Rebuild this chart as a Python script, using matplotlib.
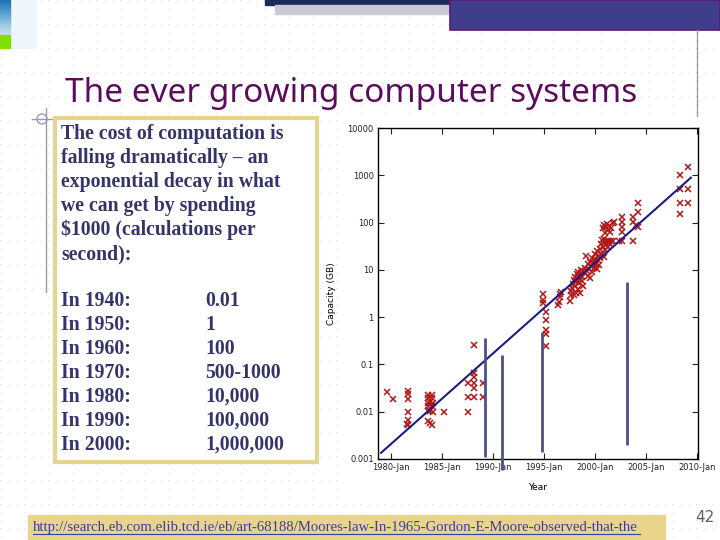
import numpy as np
import matplotlib
matplotlib.use("Agg")
from matplotlib import pyplot as plt
from matplotlib.patches import Rectangle, Circle

# ---- data ----
years = [1979.6, 1980.2, 1981.6, 1981.6, 1981.6, 1981.6, 1981.6, 1981.5, 1981.6,
         1983.6, 1984.0, 1983.6, 1984.0, 1983.8, 1983.6, 1984.1, 1983.6, 1984.0,
         1983.6, 1983.8, 1984.1, 1983.6, 1983.8, 1984.0,
         1985.2, 1987.5, 1987.5, 1987.5, 1988.1, 1988.1, 1988.1, 1988.1, 1988.1, 1988.1,
         1989.0, 1989.0,
         1994.9, 1994.9, 1994.9, 1995.2, 1995.2, 1995.2, 1995.2, 1995.2,
         1996.4, 1996.5, 1996.6, 1996.6, 1996.7, 1997.55,
         1997.6, 1997.6, 1997.7, 1997.8, 1997.9, 1997.9, 1998.0, 1998.0, 1998.1, 1998.1,
         1998.2, 1998.2, 1998.3, 1998.3, 1998.4, 1998.4, 1998.5, 1998.5, 1998.6, 1998.6,
         1998.7, 1998.7, 1998.8, 1998.8,
         1999.0, 1999.0, 1999.1, 1999.2, 1999.3, 1999.3, 1999.4, 1999.5, 1999.5, 1999.6,
         1999.7, 1999.7, 1999.8, 1999.9, 2000.0, 2000.0, 2000.1, 2000.2, 2000.2, 2000.3,
         2000.4, 2000.4,
         2000.5, 2000.5, 2000.6, 2000.7, 2000.7, 2000.8, 2000.9, 2000.9, 2001.0, 2001.0,
         2001.1, 2001.2, 2001.3, 2001.4, 2001.5, 2001.6, 2001.8,
         2000.8, 2000.9, 2001.0, 2001.1, 2001.2, 2001.3, 2001.4, 2001.5, 2001.6, 2001.8,
         2001.9, 2002.3, 2002.6, 2002.6, 2002.6, 2002.6, 2002.6,
         2003.7, 2003.75, 2004.0, 2004.25, 2004.25, 2004.25, 2003.75,
         2008.3, 2008.3, 2008.3, 2008.3, 2009.1, 2009.1, 2009.1]
capacity = [0.0266, 0.0189, 0.0279, 0.0238, 0.0189, 0.010, 0.0067, 0.0055, 0.0053,
            0.0226, 0.0226, 0.0193, 0.0193, 0.0164, 0.0156, 0.0156, 0.0133, 0.0133,
            0.0105, 0.0105, 0.010, 0.0065, 0.0059, 0.0053,
            0.010, 0.0412, 0.0208, 0.010, 0.258, 0.065, 0.0536, 0.040, 0.0314, 0.0208,
            0.0412, 0.0208,
            3.09, 2.31, 1.97, 1.27, 0.87, 0.537, 0.44, 0.246,
            1.81, 2.13, 2.63, 3.09, 3.46, 2.2,
            3.0, 3.6, 4.2, 5.0, 3.0, 6.0, 4.5, 7.0, 3.2, 5.5,
            8.0, 6.2, 4.0, 9.0, 5.2, 7.5, 6.5, 3.2, 8.5, 10.0,
            5.8, 7.2, 9.5, 4.5,
            8.5, 11.0, 20.0, 9.5, 13.0, 7.5, 10.5, 15.0, 6.8, 12.0,
            18.0, 9.0, 14.0, 11.0, 17.0, 22.0, 13.0, 10.5, 25.0, 16.0,
            20.0, 12.5,
            28.0, 18.0, 35.0, 22.0, 42.0, 30.0, 19.0, 45.0, 26.0, 38.0,
            33.0, 40.0, 30.0, 41.0, 36.0, 41.0, 41.0,
            75.0, 90.0, 60.0, 82.0, 95.0, 70.0, 85.0, 62.0, 78.0, 100.0,
            104.0, 41.0, 129.0, 104.0, 81.0, 64.0, 41.0,
            133.0, 104.0, 89.0, 81.0, 256.0, 165.0, 41.0,
            1014.0, 513.0, 256.0, 152.0, 1510.0, 513.0, 256.0]

trend_years = [1979.0, 2009.4]
trend_capacity = [0.00135, 890.0]

# vertical bars drawn over the chart: year, bottom, top
bar_years = [1989.2, 1990.9, 1994.8, 2003.1]
bar_low = [0.0011, 0.00059, 0.0014, 0.002]
bar_high = [0.363, 0.159, 0.486, 5.55]

x_ticks = [1980, 1985, 1990, 1995, 2000, 2005, 2010]
x_labels = ['1980-Jan', '1985-Jan', '1990-Jan', '1995-Jan', '2000-Jan', '2005-Jan', '2010-Jan']
y_ticks = [0.001, 0.01, 0.1, 1, 10, 100, 1000, 10000]
y_labels = ['0.001', '0.01', '0.1', '1', '10', '100', '1000', '10000']

title = 'The ever growing computer systems'
intro = ['The cost of computation is',
         'falling dramatically \u2013 an',
         'exponential decay in what',
         'we can get by spending',
         '$1000 (calculations per',
         'second):']
decades = ['In 1940:', 'In 1950:', 'In 1960:', 'In 1970:', 'In 1980:', 'In 1990:', 'In 2000:']
amounts = ['0.01', '1', '100', '500-1000', '10,000', '100,000', '1,000,000']
link = 'http://search.eb.com.elib.tcd.ie/eb/art-68188/Moores-law-In-1965-Gordon-E-Moore-observed-that-the'

fig = plt.figure(figsize=(7.2, 5.4), dpi=100)

# slide background in pixel coordinates
bg = fig.add_axes([0, 0, 1, 1])
bg.set_xlim(0, 720)
bg.set_ylim(540, 0)
bg.axis('off')

# faint dotted grid of the slide template
dots = []
for yy in range(0, 541, 24):
    for xx in range(0, 721, 8):
        dots.append((xx, yy))
for xx in range(0, 721, 24):
    for yy in range(0, 541, 8):
        dots.append((xx, yy))
dots = np.array(dots)
bg.scatter(dots[:, 0], dots[:, 1], s=0.35, c='#dadada', linewidths=0, zorder=0)

# top decorations
bg.add_patch(Rectangle((0, 0), 36, 48, color='#eef5fc', zorder=1))
for k in range(35):
    bg.add_patch(Rectangle((0, k), 10, 1, color=plt.cm.Blues(0.75 - k * 0.015), zorder=2))
bg.add_patch(Rectangle((0, 35), 10, 13, color='#7fe000', zorder=2))
bg.add_patch(Rectangle((265, 0), 185, 5, color='#1c2a5c', zorder=2))
bg.add_patch(Rectangle((275, 5), 175, 9, color='#c9cad3', zorder=2))
bg.add_patch(Rectangle((450, 0), 270, 30, facecolor='#3e3e8c', edgecolor='#5a1a78', lw=1.2, zorder=2))
bg.plot([697, 697], [30, 116], color='#9a9ab0', lw=1, zorder=2)

bg.text(65, 102, title, fontsize=24, color='#5c0c5c', family='Noto Sans', va='baseline', zorder=3)

# crosshair bullet
bg.plot([32, 172], [119, 119], color='#9a9ab8', lw=1, zorder=2)
bg.plot([46, 46], [108, 292], color='#9a9ab8', lw=1, zorder=2)
bg.add_patch(Circle((42, 119), 5, fill=False, ec='#9a9ab8', lw=1, zorder=2))

# text box
bg.add_patch(Rectangle((55, 118), 262, 344, facecolor='white', edgecolor='#e6d48e', lw=3, zorder=2))
for i, line in enumerate(intro):
    bg.text(61, 134 + 24 * i, line, fontsize=14.2, fontweight='bold', color='#34346a',
            family='Liberation Serif', va='center', zorder=3)
for i, (d, a) in enumerate(zip(decades, amounts)):
    bg.text(61, 301 + 24 * i, d, fontsize=14.2, fontweight='bold', color='#34346a',
            family='Liberation Serif', va='center', zorder=3)
    bg.text(205, 301 + 24 * i, a, fontsize=14.2, fontweight='bold', color='#34346a',
            family='Liberation Serif', va='center', zorder=3)

# white area behind the chart picture
bg.add_patch(Rectangle((338, 118), 374, 384, color='white', zorder=1))

# link bar and page number
bg.add_patch(Rectangle((28, 515), 637, 25, color='#e8d48a', zorder=2))
bg.text(33, 528, link, fontsize=10.6, color='#3c3ca8', family='Liberation Serif',
        va='center', zorder=3)
bg.plot([33, 640], [534, 534], color='#3c3ca8', lw=0.8, zorder=3)
bg.text(705, 517, '42', fontsize=11, color='#606060', ha='center', va='center', zorder=3)

# ---- the chart ----
ax = fig.add_axes([378 / 720, 1 - 459 / 540, 320 / 720, 331 / 540])
ax.set_yscale('log')
ax.plot(years, capacity, 'x', color='#b01818', markersize=4, mew=1.1, zorder=3)
ax.plot(trend_years, trend_capacity, '-', color='#1c1c82', lw=1.5, zorder=4)
ax.vlines(bar_years, bar_low, bar_high, color='#4c5288', lw=2, clip_on=False, zorder=5)

ax.set_xlim(1978.7, 2010.1)
ax.set_ylim(0.001, 10000)
ax.set_xticks(x_ticks)
ax.set_xticklabels(x_labels)
ax.set_yticks(y_ticks)
ax.set_yticklabels(y_labels)
ax.minorticks_off()
ax.tick_params(direction='in', labelsize=6, length=4, colors='#222222', pad=3, top=True, right=True)
ax.set_xlabel('Year', fontsize=6.5, labelpad=8)
ax.set_ylabel('Capacity (GB)', fontsize=6.5, labelpad=8)
for s in ax.spines.values():
    s.set_linewidth(1)

plt.savefig('out.png', dpi=100)
